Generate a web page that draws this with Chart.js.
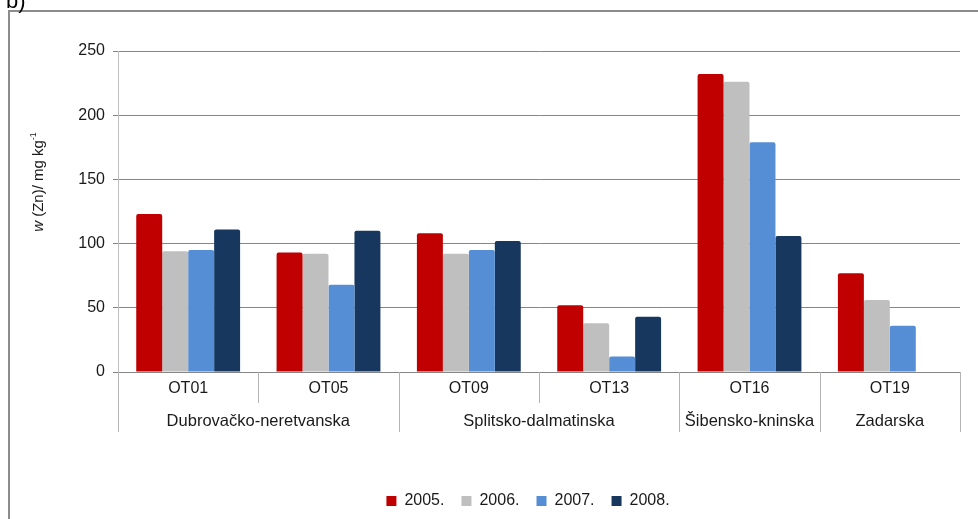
<!DOCTYPE html>
<html><head><meta charset="utf-8">
<script src="https://cdn.jsdelivr.net/npm/chart.js@4"></script>
<style>html,body{margin:0;padding:0;background:#fff;}#wrap{width:978px;height:519px;position:relative}</style>
</head><body><div id="wrap"><canvas id="c" width="978" height="519"></canvas></div>
<script>
const categories = ['OT01','OT05','OT09','OT13','OT16','OT19'];
const regions = ['Dubrovačko-neretvanska','Splitsko-dalmatinska','Šibensko-kninska','Zadarska'];
const regionSpans = [2,2,1,1];
const years = ['2005.','2006.','2007.','2008.'];
const s2005 = [123,93,108,52,232,77];
const s2006 = [94,92,92,38,226,56];
const s2007 = [95,68,95,12,179,36];
const s2008 = [111,110,102,43,106,null];
const yMin = 0, yMax = 250, yStep = 50;
const panelLabel = 'b)';

const FONT = "'Liberation Sans', Arial, sans-serif";
const TXT = '#1a1a1a';
const colors = ['#C00000','#BFBFBF','#558ED5','#17375E'];
const seriesData = [s2005,s2006,s2007,s2008];

const regionCenters = [], regionBounds = [0];
let acc = 0;
regionSpans.forEach(s => { regionCenters.push(acc + s/2); acc += s; regionBounds.push(acc); });

Chart.defaults.font.family = FONT;
const LEGEND_SHIFT = 96;

const decor = {
  id: 'decor',
  afterLayout(chart) {
    if (chart.legend) { chart.legend.left += LEGEND_SHIFT; chart.legend.width -= LEGEND_SHIFT; }
  },
  beforeDraw(chart) {
    const c = chart.ctx;
    c.save();
    c.fillStyle = '#fff';
    c.fillRect(0,0,chart.width,chart.height);
    c.strokeStyle = '#8c8c8c';
    c.lineWidth = 2;
    c.strokeRect(9, 11, 1000, 600);
    c.restore();
  },
  afterDraw(chart) {
    const c = chart.ctx;
    const x2 = chart.scales.x2;
    const top = chart.chartArea.bottom;
    c.save();
    c.strokeStyle = '#b3b3b3';
    c.lineWidth = 1;
    for (let i = 0; i <= categories.length; i++) {
      const px = Math.round(x2.getPixelForValue(i)) + 0.5;
      const long = regionBounds.includes(i);
      c.beginPath();
      c.moveTo(px, top);
      c.lineTo(px, long ? 432 : 403);
      c.stroke();
    }
    // panel label
    c.fillStyle = '#000';
    c.font = '22px ' + FONT;
    c.textBaseline = 'alphabetic';
    c.textAlign = 'left';
    c.fillText(panelLabel, 6, 8);
    // y title
    c.translate(43, 182);
    c.rotate(-Math.PI/2);
    const segs = [
      {t:'w', f:'italic 15px ' + FONT, dy:0},
      {t:' (Zn)/ mg kg', f:'15px ' + FONT, dy:0},
      {t:'-1', f:'9px ' + FONT, dy:-7}
    ];
    let total = 0;
    segs.forEach(s => { c.font = s.f; s.w = c.measureText(s.t).width; total += s.w; });
    let x = -total/2;
    c.fillStyle = TXT;
    segs.forEach(s => { c.font = s.f; c.fillText(s.t, x, s.dy); x += s.w; });
    c.restore();
  }
};

new Chart(document.getElementById('c'), {
  type: 'bar',
  data: {
    labels: categories,
    datasets: years.map((y,i) => ({
      label: y,
      data: seriesData[i],
      backgroundColor: colors[i],
      borderWidth: 0,
      borderRadius: {topLeft:2, topRight:2, bottomLeft:0, bottomRight:0},
      borderSkipped: 'bottom',
      categoryPercentage: 0.74,
      barPercentage: 1
    }))
  },
  options: {
    responsive: false,
    animation: false,
    devicePixelRatio: 1,
    layout: {padding: {left:0, top:51, right:18, bottom:0}},
    scales: {
      x: {
        type: 'category', position: 'bottom', weight: 0,
        grid: {display:false}, border: {display:false},
        ticks: {color: TXT, font: {size:16}, padding: -1, maxRotation: 0, autoSkip: false},
        afterFit(s) { s.height = 30; }
      },
      x2: {
        type: 'linear', position: 'bottom', weight: 1, min: 0, max: categories.length, offset: false,
        grid: {display:false, offset:false}, border: {display:false},
        ticks: {color: TXT, font: {size:16.5}, padding: 2, maxRotation: 0, minRotation: 0, autoSkip: false,
                callback: (v, i) => regions[i]},
        afterBuildTicks(s) { s.ticks = regionCenters.map(v => ({value: v})); },
        afterFit(s) { s.height = 74; }
      },
      y: {
        min: yMin, max: yMax,
        ticks: {stepSize: yStep, color: TXT, font: {size:16}, padding: 8},
        grid: {color: '#868686', tickLength: 5, tickColor: '#868686'},
        border: {color: '#bfbfbf', width: 1},
        afterFit(s) { s.width = 118; }
      }
    },
    plugins: {
      legend: {position: 'bottom', labels: {boxWidth: 10, boxHeight: 10, padding: 17, color: TXT, font: {size:16}}},
      tooltip: {enabled: false}
    }
  },
  plugins: [decor]
});
</script>
</body></html>
